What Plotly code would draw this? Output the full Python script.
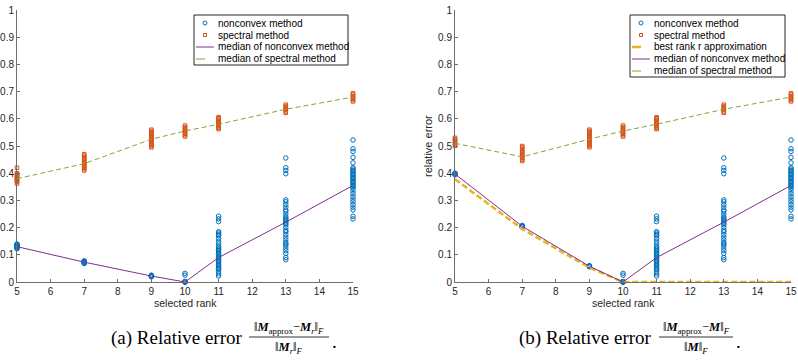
import plotly.graph_objects as go

# ---------------- data ----------------
ranks = [5, 7, 9, 10, 11, 13, 15]

# nonconvex method samples, panel (a): error relative to M_r
nc_a_5 = [0.122, 0.125, 0.127, 0.128, 0.130, 0.131, 0.132, 0.133, 0.134, 0.135, 0.136, 0.138, 0.140]
nc_a_7 = [0.068, 0.070, 0.071, 0.072, 0.073, 0.074, 0.075, 0.076, 0.078]
nc_a_9 = [0.019, 0.020, 0.021, 0.022, 0.023, 0.024, 0.025]
nc_10 = [0.0, 0.0, 0.0, 0.0, 0.001, 0.002, 0.025, 0.032]
nc_11 = [0.022, 0.030, 0.038, 0.045, 0.050, 0.055, 0.060, 0.065, 0.070, 0.075, 0.080, 0.085,
         0.090, 0.095, 0.100, 0.105, 0.110, 0.115, 0.120, 0.125, 0.130, 0.140, 0.150, 0.160,
         0.170, 0.175, 0.180, 0.185, 0.222, 0.232, 0.242]
nc_13 = [0.082, 0.090, 0.105, 0.115, 0.125, 0.135, 0.140, 0.145, 0.155, 0.165, 0.175, 0.185,
         0.190, 0.200, 0.210, 0.215, 0.220, 0.225, 0.230, 0.235, 0.240, 0.250, 0.260, 0.265,
         0.275, 0.285, 0.295, 0.302, 0.398, 0.410, 0.420, 0.456]
nc_15 = [0.232, 0.242, 0.265, 0.275, 0.285, 0.295, 0.305, 0.315, 0.325, 0.335, 0.345, 0.350,
         0.355, 0.360, 0.365, 0.370, 0.375, 0.380, 0.385, 0.390, 0.395, 0.400, 0.405, 0.410,
         0.415, 0.420, 0.438, 0.458, 0.480, 0.490, 0.522]
# panel (b): error relative to M
nc_b_5 = [0.394, 0.396, 0.397, 0.398, 0.399, 0.400]
nc_b_7 = [0.202, 0.204, 0.205, 0.206, 0.208]
nc_b_9 = [0.056, 0.057, 0.058, 0.059, 0.060]

# spectral method samples
sp_a_5 = [0.362, 0.368, 0.372, 0.376, 0.380, 0.384, 0.388, 0.392, 0.396, 0.400, 0.420]
sp_a_7 = [0.410, 0.415, 0.420, 0.425, 0.430, 0.435, 0.440, 0.445, 0.450, 0.455, 0.460, 0.465, 0.470]
sp_9 = [0.495, 0.500, 0.505, 0.510, 0.515, 0.520, 0.525, 0.530, 0.535, 0.540, 0.545, 0.550, 0.555, 0.560]
sp_10 = [0.535, 0.540, 0.545, 0.550, 0.555, 0.560, 0.565, 0.570, 0.575]
sp_11 = [0.562, 0.567, 0.572, 0.577, 0.582, 0.587, 0.592, 0.597, 0.602, 0.606]
sp_13 = [0.622, 0.627, 0.632, 0.637, 0.642, 0.647, 0.652]
sp_15 = [0.664, 0.669, 0.674, 0.679, 0.684, 0.689, 0.694]
sp_b_5 = [0.500, 0.505, 0.510, 0.515, 0.520, 0.525, 0.530]
sp_b_7 = [0.445, 0.450, 0.455, 0.460, 0.465, 0.470, 0.475, 0.480, 0.485, 0.490, 0.495, 0.500]

# medians and best rank-r approximation
med_nc_a = [0.130, 0.073, 0.022, 0.0, 0.090, 0.220, 0.355]
med_sp_a = [0.380, 0.435, 0.525, 0.555, 0.580, 0.635, 0.680]
med_nc_b = [0.397, 0.205, 0.058, 0.0, 0.090, 0.220, 0.355]
med_sp_b = [0.510, 0.460, 0.525, 0.555, 0.580, 0.635, 0.680]
best_rank_b = [0.378, 0.195, 0.053, 0.0, 0.0, 0.0, 0.0]

x_ticks = [5, 6, 7, 8, 9, 10, 11, 12, 13, 14, 15]
y_ticks = [0, 0.1, 0.2, 0.3, 0.4, 0.5, 0.6, 0.7, 0.8, 0.9, 1]
y_ticktext = ["0", "0.1", "0.2", "0.3", "0.4", "0.5", "0.6", "0.7", "0.8", "0.9", "1"]

nc_a = [nc_a_5, nc_a_7, nc_a_9, nc_10, nc_11, nc_13, nc_15]
nc_b = [nc_b_5, nc_b_7, nc_b_9, nc_10, nc_11, nc_13, nc_15]
sp_a = [sp_a_5, sp_a_7, sp_9, sp_10, sp_11, sp_13, sp_15]
sp_b = [sp_b_5, sp_b_7, sp_9, sp_10, sp_11, sp_13, sp_15]

# ---------------- styling ----------------
W, H = 798, 364
C_NC = "#0072BD"
C_SP = "#D95319"
C_BEST = "#EDB120"
C_MNC = "#7E2F8E"
C_MSP = "#77AC30"
AX = "#6e6e6e"
TXT = "#262626"
SANS = "Liberation Sans, Arial, sans-serif"
SERIF = "Liberation Serif, Times New Roman, serif"


def px(x):
    return x / W


def py(y):
    return 1 - y / H


def flat(groups):
    xs, ys = [], []
    for r, g in zip(ranks, groups):
        xs += [r] * len(g)
        ys += g
    return xs, ys


fig = go.Figure()


def add_panel(xa, ya, nc, sp, mnc, msp, best=None):
    x, y = flat(nc)
    fig.add_trace(go.Scatter(x=x, y=y, mode="markers", xaxis=xa, yaxis=ya, cliponaxis=False,
                             marker=dict(symbol="circle-open", size=4.5, color=C_NC, line=dict(width=1, color=C_NC))))
    x, y = flat(sp)
    fig.add_trace(go.Scatter(x=x, y=y, mode="markers", xaxis=xa, yaxis=ya, cliponaxis=False,
                             marker=dict(symbol="square-open", size=3.5, color=C_SP, line=dict(width=1, color=C_SP))))
    if best is not None:
        fig.add_trace(go.Scatter(x=ranks, y=best, mode="lines", xaxis=xa, yaxis=ya, cliponaxis=False,
                                 line=dict(color=C_BEST, width=2.5, dash="6px,3px")))
    fig.add_trace(go.Scatter(x=ranks, y=mnc, mode="lines", xaxis=xa, yaxis=ya,
                             line=dict(color=C_MNC, width=1)))
    fig.add_trace(go.Scatter(x=ranks, y=msp, mode="lines", xaxis=xa, yaxis=ya,
                             line=dict(color=C_MSP, width=1, dash="5px,3px")))


add_panel("x", "y", nc_a, sp_a, med_nc_a, med_sp_a)
add_panel("x2", "y2", nc_b, sp_b, med_nc_b, med_sp_b, best_rank_b)

axis_common = dict(showgrid=False, zeroline=False, showline=True, linecolor=AX, linewidth=1,
                   ticks="inside", ticklen=3, tickcolor=AX, tickwidth=1,
                   tickfont=dict(family=SANS, size=10, color=TXT), automargin=False)
ydom = [py(282), py(10)]
fig.update_layout(
    width=W, height=H, margin=dict(l=0, r=0, t=0, b=0),
    paper_bgcolor="white", plot_bgcolor="white", showlegend=False,
    xaxis=dict(domain=[px(17), px(353)], range=[5, 15], tickvals=x_ticks, anchor="y", **axis_common),
    yaxis=dict(domain=ydom, range=[0, 1], tickvals=y_ticks, ticktext=y_ticktext, anchor="x", **axis_common),
    xaxis2=dict(domain=[px(455), px(791)], range=[5, 15], tickvals=x_ticks, anchor="y2", **axis_common),
    yaxis2=dict(domain=ydom, range=[0, 1], tickvals=y_ticks, ticktext=y_ticktext, anchor="x2", **axis_common),
)

shapes = []
ann = []


def text(x, y, s, size=10, family=SANS, xanchor="left", color="#000", angle=0):
    ann.append(dict(x=px(x), y=py(y), xref="paper", yref="paper", text=s, showarrow=False,
                    xanchor=xanchor, yanchor="middle", textangle=angle,
                    font=dict(family=family, size=size, color=color)))


def legend(x0, x1, y0, items):
    n = len(items)
    y1 = y0 + 12 * n + 2
    shapes.append(dict(type="rect", xref="paper", yref="paper", x0=px(x0), x1=px(x1), y0=py(y1), y1=py(y0),
                       line=dict(color="#262626", width=1), fillcolor="white", layer="above"))
    for i, (kind, label) in enumerate(items):
        yc = y0 + 8 + 12 * i
        lx0, lx1 = x0 + 2, x0 + 20
        xc = (lx0 + lx1) / 2
        if kind == "circle":
            shapes.append(dict(type="circle", xref="paper", yref="paper", x0=px(xc - 2), x1=px(xc + 2),
                               y0=py(yc + 2), y1=py(yc - 2), line=dict(color=C_NC, width=1), layer="above"))
        elif kind == "square":
            shapes.append(dict(type="rect", xref="paper", yref="paper", x0=px(xc - 1.5), x1=px(xc + 1.5),
                               y0=py(yc + 1.5), y1=py(yc - 1.5), line=dict(color=C_SP, width=1), layer="above"))
        else:
            col, wid, dash = kind
            shapes.append(dict(type="line", xref="paper", yref="paper", x0=px(lx0), x1=px(lx1),
                               y0=py(yc), y1=py(yc), line=dict(color=col, width=wid, dash=dash), layer="above"))
        text(lx1 + 2, yc, label)


legend(194, 348, 15, [("circle", "nonconvex method"), ("square", "spectral method"),
                      ((C_MNC, 1, "solid"), "median of nonconvex method"),
                      ((C_MSP, 1, "dash"), "median of spectral method")])
legend(630, 785, 15, [("circle", "nonconvex method"), ("square", "spectral method"),
                      ((C_BEST, 2.5, "dash"), "best rank r approximation"),
                      ((C_MNC, 1, "solid"), "median of nonconvex method"),
                      ((C_MSP, 1, "dash"), "median of spectral method")])

# axis labels
text(185, 303, "selected rank", size=10.5, xanchor="center", color=TXT)
text(623, 303, "selected rank", size=10.5, xanchor="center", color=TXT)
text(428, 146, "relative error", size=11, xanchor="center", color=TXT, angle=-90)

# captions
M = "<b><i>M</i></b>"


def caption(x_text_end, label, num, den, frac_w):
    text(x_text_end, 338, label, size=19, family=SERIF, xanchor="right")
    fc = x_text_end + 5 + frac_w / 2
    text(fc, 328, num, size=12.5, family=SERIF, xanchor="center")
    text(fc, 348, den, size=12.5, family=SERIF, xanchor="center")
    shapes.append(dict(type="line", xref="paper", yref="paper", x0=px(fc - frac_w / 2), x1=px(fc + frac_w / 2),
                       y0=py(337), y1=py(337), line=dict(color="#000", width=0.8)))
    text(fc + frac_w / 2 + 1, 341, ".", size=19, family=SERIF)


caption(244, "(a) Relative error",
        "‖" + M + "<sub>approx</sub>−" + M + "<sub><i>r</i></sub>‖<sub><i>F</i></sub>",
        "‖" + M + "<sub><i>r</i></sub>‖<sub><i>F</i></sub>", 80)
caption(654, "(b) Relative error",
        "‖" + M + "<sub>approx</sub>−" + M + "‖<sub><i>F</i></sub>",
        "‖" + M + "‖<sub><i>F</i></sub>", 74)

fig.update_layout(shapes=shapes, annotations=ann)
fig.write_html("out.html")
